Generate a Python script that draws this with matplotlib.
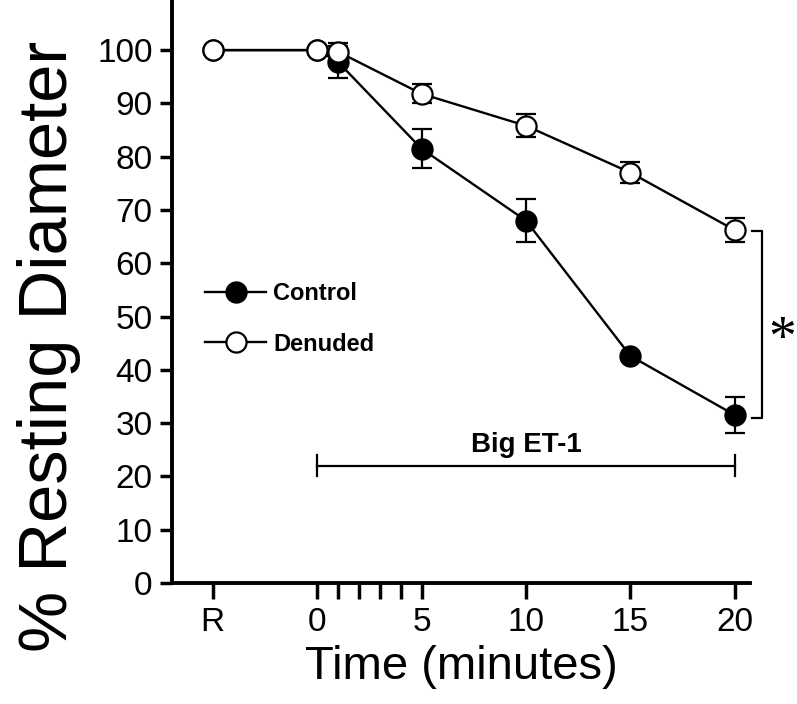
import matplotlib
matplotlib.use("Agg")
import matplotlib.pyplot as plt
from matplotlib.ticker import FixedLocator
from matplotlib.lines import Line2D

plt.rcParams['font.family'] = ['Liberation Sans', 'DejaVu Sans']

# ---- data ----
time_pos = [-5, 0, 1, 5, 10, 15, 20]
control = [100, 100, 97.8, 81.5, 68.0, 42.6, 31.5]
control_err = [0, 0, 3.0, 3.7, 4.0, 0.0, 3.4]
denuded = [100, 100, 99.7, 91.8, 85.8, 77.0, 66.2]
denuded_err = [0, 0, 1.7, 1.8, 2.2, 2.0, 2.3]
xtick_pos = [-5, 0, 5, 10, 15, 20]
xtick_labels = ['R', '0', '5', '10', '15', '20']
minor_pos = [1, 2, 3, 4]
ytick_pos = list(range(0, 101, 10))
bar_start, bar_end, bar_level = 0, 20, 22
sig_low, sig_high = 31.0, 66.1

fig = plt.figure(figsize=(7.97, 7.04), dpi=100)
ax = fig.add_axes([172/797, 1 - 583/704, (750-172)/797, 583/704])

lw = 1.7
ax.errorbar(time_pos, control, yerr=control_err, fmt='o-', color='black',
            mfc='black', mec='black', ms=14.5, mew=1.6, lw=lw, elinewidth=1.6,
            capsize=7.5, capthick=1.6, zorder=3)
ax.errorbar(time_pos, denuded, yerr=denuded_err, fmt='o-', color='black',
            mfc='white', mec='black', ms=14.5, mew=1.6, lw=lw, elinewidth=1.6,
            capsize=7.5, capthick=1.6, zorder=4)

ax.set_xlim(-6.94, 20.72)
ax.set_ylim(0, 109.4)

for s in ['top', 'right']:
    ax.spines[s].set_visible(False)
for s in ['left', 'bottom']:
    ax.spines[s].set_linewidth(2.8)

ax.set_xticks(xtick_pos)
ax.set_xticklabels(xtick_labels)
ax.xaxis.set_minor_locator(FixedLocator(minor_pos))
ax.set_yticks(ytick_pos)
ax.tick_params(axis='both', which='both', direction='out', width=2.5, labelsize=24)
ax.tick_params(axis='x', which='both', length=11.5, pad=6)
ax.tick_params(axis='y', which='both', length=9, pad=5)

ax.set_xlabel('Time (minutes)', fontsize=34, labelpad=5)
ax.set_ylabel('% Resting Diameter', fontsize=49.5)
ax.yaxis.set_label_coords(-0.158, (583 - 346) / 583)

# Big ET-1 bar
ax.plot([bar_start, bar_end], [bar_level, bar_level], color='black', lw=1.6)
ax.plot([bar_start, bar_start], [bar_level - 2, bar_level + 2], color='black', lw=1.6)
ax.plot([bar_end, bar_end], [bar_level - 2, bar_level + 2], color='black', lw=1.6)
ax.text((bar_start + bar_end) / 2, bar_level + 2.6, 'Big ET-1', ha='center', va='baseline',
        fontsize=20, fontweight='bold')

# significance bracket
bx = 21.3
ax.plot([20.8, bx, bx, 20.8], [sig_high, sig_high, sig_low, sig_low], color='black',
        lw=1.6, clip_on=False)
ax.text(22.25, 45.5, '*', ha='center', va='center', fontsize=40,
        family='Liberation Serif', clip_on=False)

handles = [Line2D([], [], color='black', lw=lw, marker='o', ms=14.5, mfc='black',
                  mec='black', mew=1.6),
           Line2D([], [], color='black', lw=lw, marker='o', ms=14.5, mfc='white',
                  mec='black', mew=1.6)]
ax.legend(handles, ['Control', 'Denuded'], loc='upper left',
          bbox_to_anchor=(0.02, 0.552), frameon=False,
          prop={'size': 17, 'weight': 'bold'}, handlelength=2.6,
          handletextpad=0.3, labelspacing=1.15)

fig.savefig('out.png', dpi=100)
